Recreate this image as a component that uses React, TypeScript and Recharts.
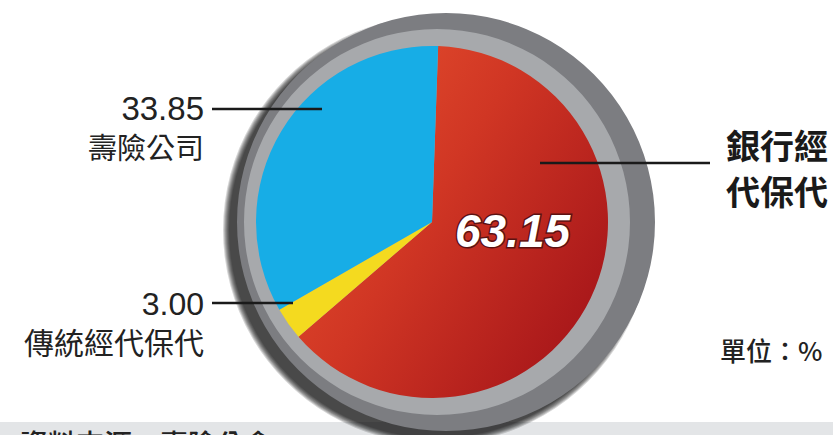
import { Cell, Pie, PieChart } from "recharts";

const categories = ["銀行經代保代", "傳統經代保代", "壽險公司"];
const shares = [63.15, 3.0, 33.85];
const sliceColors = ["url(#redFill)", "#f4da1f", "#17ade6"];
const unitLabel = "單位：%";
const sourceLabel = "資料來源：壽險公會";

const sliceData = categories.map((name, i) => ({ name, value: shares[i] }));
const ringData = [{ name: "ring", value: 1 }];
const shadowSteps = [214, 213, 212, 211, 210, 209, 208];

const numFont = '"Liberation Sans", Arial, sans-serif';
const cjkFont = '"Noto Sans CJK TC", "Noto Sans", sans-serif';

const layer = { position: "absolute" as const, left: 0, top: 0 };

export default function App() {
  return (
    <div style={{ position: "absolute", left: 0, top: 0, width: 833, height: 435, background: "#fff", overflow: "hidden" }}>
      <svg width={833} height={435} style={layer}>
        <rect x={0} y={422} width={833} height={13} fill="#e3e5e7" />
      </svg>

      <div style={layer}>
        <PieChart width={833} height={435} margin={{ top: 0, right: 0, bottom: 0, left: 0 }}>
          <defs>
            <linearGradient id="redFill" x1="0" y1="0" x2="1" y2="0.7">
              <stop offset="0%" stopColor="#ea5530" />
              <stop offset="50%" stopColor="#d03624" />
              <stop offset="100%" stopColor="#a8171a" />
            </linearGradient>
          </defs>
          {shadowSteps.map((r, i) => (
            <Pie
              key={"sh" + i}
              data={ringData}
              dataKey="value"
              cx={437}
              cy={230}
              outerRadius={r}
              stroke="none"
              fill="#000"
              fillOpacity={0.16}
              isAnimationActive={false}
            />
          ))}
          <Pie
            data={ringData}
            dataKey="value"
            cx={446}
            cy={222}
            outerRadius={209}
            stroke="none"
            fill="#7c7d81"
            isAnimationActive={false}
          />
          <Pie
            data={ringData}
            dataKey="value"
            cx={437}
            cy={222}
            outerRadius={193}
            stroke="none"
            fill="#a7a9ac"
            isAnimationActive={false}
          />
          <Pie
            data={sliceData}
            dataKey="value"
            nameKey="name"
            cx={432}
            cy={222}
            outerRadius={176}
            startAngle={88}
            endAngle={-272}
            stroke="none"
            isAnimationActive={false}
          >
            {sliceData.map((_, i) => (
              <Cell key={i} fill={sliceColors[i]} />
            ))}
          </Pie>
        </PieChart>
      </div>

      {/* annotations on top */}
      <svg width={833} height={435} style={layer}>
        <line x1={212} y1={109} x2={322} y2={109} stroke="#1a1a1a" strokeWidth={2.5} />
        <text x={204} y={120} textAnchor="end" fontFamily={numFont} fontSize={33} fill="#222">
          {shares[2].toFixed(2)}
        </text>
        <text x={204} y={159} textAnchor="end" fontFamily={cjkFont} fontSize={29} fill="#222">
          {categories[2]}
        </text>

        <line x1={212} y1={303} x2={293} y2={303} stroke="#1a1a1a" strokeWidth={2.5} />
        <text x={204} y={315} textAnchor="end" fontFamily={numFont} fontSize={32} fill="#222">
          {shares[1].toFixed(2)}
        </text>
        <text x={204} y={354} textAnchor="end" fontFamily={cjkFont} fontSize={30} fill="#222">
          {categories[1]}
        </text>

        <line x1={540} y1={163} x2={710} y2={163} stroke="#1a1a1a" strokeWidth={2.5} />
        <text x={726} y={159} fontFamily={cjkFont} fontSize={34} fontWeight={700} fill="#1a1a1a">
          {categories[0].slice(0, 3)}
        </text>
        <text x={726} y={205} fontFamily={cjkFont} fontSize={34} fontWeight={700} fill="#1a1a1a">
          {categories[0].slice(3)}
        </text>
        <text
          x={455}
          y={247}
          fontFamily={numFont}
          fontSize={46}
          fontWeight={700}
          fontStyle="italic"
          fill="#ffffff"
          stroke="#5c1212"
          strokeWidth={3}
          paintOrder="stroke"
        >
          {shares[0].toFixed(2)}
        </text>

        <text x={720} y={361} fontFamily={cjkFont} fontSize={26} fontWeight={500} fill="#222">
          {unitLabel}
        </text>
        <text x={20} y={455} fontFamily={cjkFont} fontSize={28} fontWeight={500} fill="#222">
          {sourceLabel}
        </text>
      </svg>
    </div>
  );
}
